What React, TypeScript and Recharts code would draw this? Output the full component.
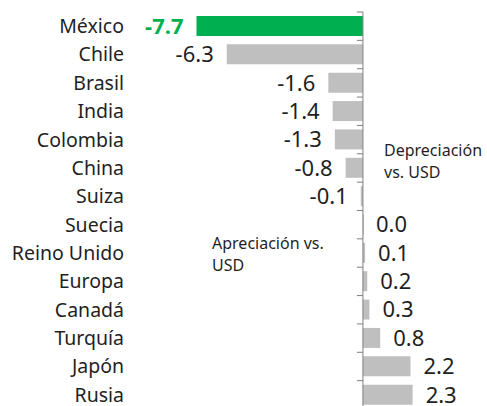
import { BarChart, Bar, XAxis, YAxis, Cell, LabelList, ReferenceLine } from 'recharts';

const countries = ['México', 'Chile', 'Brasil', 'India', 'Colombia', 'China', 'Suiza', 'Suecia', 'Reino Unido', 'Europa', 'Canadá', 'Turquía', 'Japón', 'Rusia'];
const changes = [-7.7, -6.3, -1.6, -1.4, -1.3, -0.8, -0.1, 0.0, 0.1, 0.2, 0.3, 0.8, 2.2, 2.3];
const highlight = 'México';

const data = countries.map((name, i) => ({ name, value: changes[i] }));

const FONT = '"Noto Sans", "Open Sans", sans-serif';
const TEXT = '#1f1f1f';
const GREEN = '#00b050';
const GREY = '#bfbfbf';

const ValueLabel = (props: any) => {
  const { x, y, width, height, value, index } = props;
  const v = Number(value);
  const end = v === 0 ? Number(x) : Number(x) + Number(width);
  const neg = v < 0;
  const isHi = data[index]?.name === highlight;
  return (
    <text
      x={neg ? end - 13 : end + 13}
      y={Number(y) + Number(height) / 2}
      dy="0.36em"
      textAnchor={neg ? 'end' : 'start'}
      fontFamily={FONT}
      fontSize={22}
      fontWeight={isHi ? 'bold' : 'normal'}
      fill={isHi ? GREEN : TEXT}
    >
      {v.toFixed(1)}
    </text>
  );
};

// zero line with small tick marks at the category boundaries
const ZeroAxis = (props: any) => {
  const { x1, y1, y2 } = props;
  const n = countries.length;
  const step = (y2 - y1) / n;
  return (
    <g>
      <line x1={x1} y1={y1} x2={x1} y2={y2} stroke="#7f7f7f" strokeWidth={1} />
      {Array.from({ length: n + 1 }, (_, k) => (
        <line key={k} x1={x1 - 6} x2={x1} y1={y1 + k * step} y2={y1 + k * step} stroke="#7f7f7f" strokeWidth={1} />
      ))}
    </g>
  );
};

const noteStyle: React.CSSProperties = {
  position: 'absolute',
  fontFamily: FONT,
  fontSize: 16,
  lineHeight: '22px',
  color: TEXT,
  whiteSpace: 'nowrap',
};

export default function App() {
  return (
    <div style={{ position: 'absolute', left: 0, top: 0, width: 487, height: 406, overflow: 'hidden', background: '#fff' }}>
      <BarChart
        width={487}
        height={420}
        data={data}
        layout="vertical"
        margin={{ top: 12, right: 16, bottom: 11, left: 0 }}
        barSize={20}
      >
        <XAxis type="number" domain={[-8, 5]} allowDataOverflow hide />
        <YAxis
          type="category"
          dataKey="name"
          width={190}
          axisLine={false}
          tickLine={false}
          tickSize={0}
          tickMargin={66}
          interval={0}
          tick={{ fill: TEXT, fontSize: 19.5, fontFamily: FONT }}
        />
        <Bar dataKey="value" minPointSize={1} isAnimationActive={false}>
          {data.map((d) => (
            <Cell key={d.name} fill={d.name === highlight ? GREEN : GREY} />
          ))}
          <LabelList dataKey="value" content={ValueLabel} />
        </Bar>
        <ReferenceLine x={0} shape={ZeroAxis} />
      </BarChart>
      <div style={{ ...noteStyle, left: 384, top: 139 }}>
        Depreciación
        <br />
        vs. USD
      </div>
      <div style={{ ...noteStyle, left: 212, top: 232 }}>
        Apreciación vs.
        <br />
        USD
      </div>
    </div>
  );
}
